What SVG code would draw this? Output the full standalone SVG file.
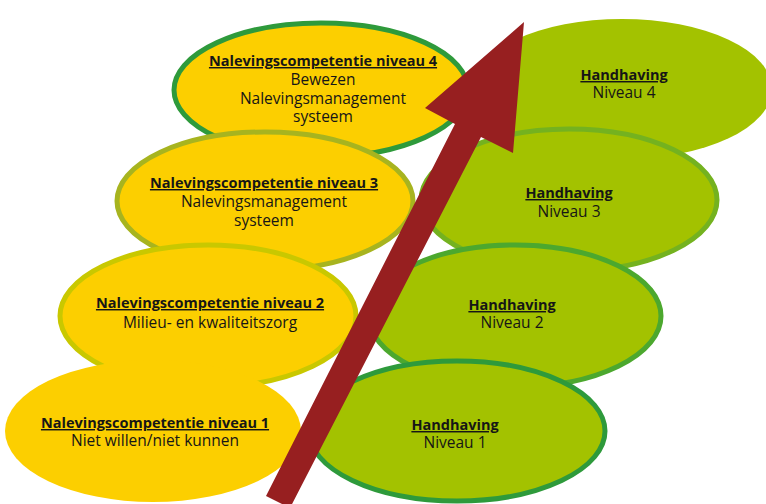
<svg xmlns="http://www.w3.org/2000/svg" width="766" height="504" viewBox="0 0 766 504">
<style>
.y{fill:#fccf00}
.g{fill:#a3c200}
text{font-family:"Open Sans","Noto Sans","Liberation Sans",sans-serif;font-size:15.5px;fill:#161616;text-anchor:middle}
.t{font-weight:bold;font-size:14.5px;text-decoration:underline}
</style>
<rect width="766" height="504" fill="#ffffff"/>
<g id="nc4">
<ellipse class="y" cx="321" cy="90" rx="147" ry="67" stroke="#2e9a3b" stroke-width="5"/>
<text class="t" x="323" y="66">Nalevingscompetentie niveau 4</text>
<text x="323" y="85">Bewezen</text>
<text x="323" y="104">Nalevingsmanagement</text>
<text x="323" y="122">systeem</text>
</g>
<g id="hh4">
<ellipse class="g" cx="622" cy="89" rx="150" ry="70"/>
<text class="t" x="624" y="80">Handhaving</text>
<text x="624" y="98">Niveau 4</text>
</g>
<g id="nc3">
<ellipse class="y" cx="265" cy="201" rx="148" ry="69" stroke="#a7b41f" stroke-width="5"/>
<text class="t" x="264" y="188">Nalevingscompetentie niveau 3</text>
<text x="264" y="207">Nalevingsmanagement</text>
<text x="264" y="226">systeem</text>
</g>
<g id="hh3">
<ellipse class="g" cx="569" cy="200" rx="148" ry="71" stroke="#74b21f" stroke-width="5"/>
<text class="t" x="569" y="198">Handhaving</text>
<text x="569" y="217">Niveau 3</text>
</g>
<g id="nc2">
<ellipse class="y" cx="208" cy="316" rx="148" ry="71" stroke="#c9c800" stroke-width="5"/>
<text class="t" x="210" y="308">Nalevingscompetentie niveau 2</text>
<text x="210" y="328">Milieu- en kwaliteitszorg</text>
</g>
<g id="hh2">
<ellipse class="g" cx="515" cy="316" rx="146" ry="71" stroke="#4ca82e" stroke-width="5"/>
<text class="t" x="512" y="310">Handhaving</text>
<text x="512" y="328">Niveau 2</text>
</g>
<g id="nc1">
<ellipse class="y" cx="153" cy="431" rx="148" ry="71"/>
<text class="t" x="155" y="428">Nalevingscompetentie niveau 1</text>
<text x="155" y="446">Niet willen/niet kunnen</text>
</g>
<g id="hh1">
<ellipse class="g" cx="457" cy="431" rx="148" ry="70" stroke="#2e9a3b" stroke-width="5"/>
<text class="t" x="455" y="430">Handhaving</text>
<text x="455" y="448">Niveau 1</text>
</g>
<g id="connectors">
<polygon points="266,496 455,124 425,108 524,22 513,153 481,137 290,508" fill="#971f20"/>
</g>
</svg>
